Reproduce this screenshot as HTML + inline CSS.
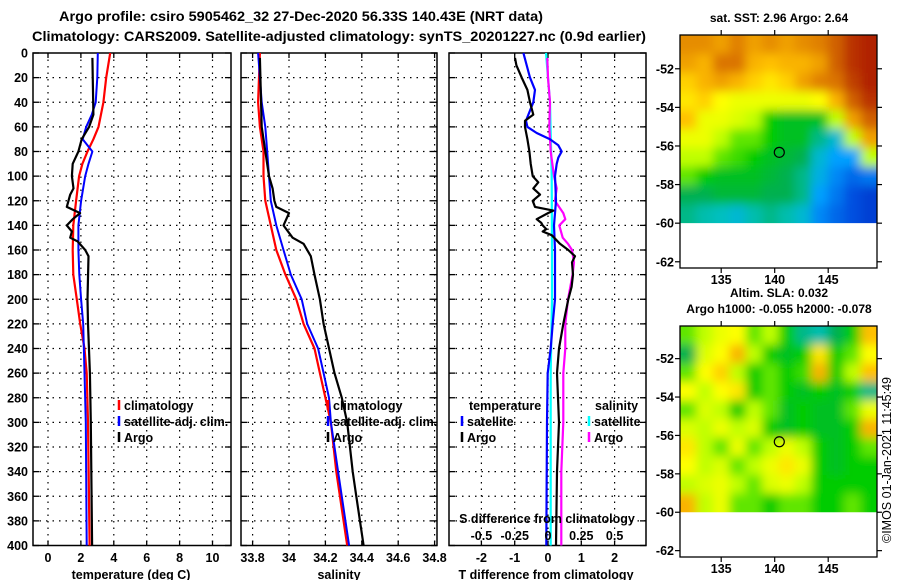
<!DOCTYPE html>
<html><head><meta charset="utf-8"><style>
html,body{margin:0;padding:0;background:#fff;}
svg{display:block;font-family:"Liberation Sans",sans-serif;font-weight:bold;}
</style></head><body>
<svg id="c" width="900" height="580" viewBox="0 0 900 580">
<text x="301" y="21" text-anchor="middle" font-size="13.5" textLength="484" lengthAdjust="spacingAndGlyphs">Argo profile: csiro 5905462_32 27-Dec-2020 56.33S 140.43E (NRT data)</text>
<text x="339" y="41" text-anchor="middle" font-size="13.5" textLength="614" lengthAdjust="spacingAndGlyphs">Climatology: CARS2009. Satellite-adjusted climatology: synTS_20201227.nc (0.9d earlier)</text>
<g id="plots"></g>
</svg>
<script>
// ---------- data ----------
const depthTicks = [0,20,40,60,80,100,120,140,160,180,200,220,240,260,280,300,320,340,360,380,400];
const tempTicks = [0,2,4,6,8,10];
const salTicks = [33.8,34,34.2,34.4,34.6,34.8];
const tdiffTicks = [-2,-1,0,1,2];
const sdiffTicks = [-0.5,-0.25,0,0.25,0.5];
const sdiffLabels = ["-0.5","-0.25","0","0.25","0.5"];

const argoTDepth = [4,50,60,70,80,90,100,110,115,125,130,135,140,145,150,153,160,165,200,220,260,300,400];
const argoTVal   = [2.7,2.76,2.5,2.05,1.85,1.5,1.45,1.55,1.35,1.14,1.95,1.5,1.14,1.45,1.35,1.8,2.26,2.46,2.4,2.43,2.55,2.6,2.68];
const climTDepth = [0,20,40,60,70,80,90,100,120,140,160,180,200,220,240,260,300,400];
const climTVal   = [3.78,3.54,3.37,3.07,2.76,2.4,2.09,1.89,1.71,1.54,1.5,1.54,1.75,1.96,2.22,2.35,2.43,2.53];
const satTDepth  = [0,20,40,50,60,70,80,90,100,120,140,160,180,200,220,260,300,400];
const satTVal    = [3.03,3.0,2.9,2.66,2.32,2.11,2.7,2.46,2.26,2.01,1.85,1.85,1.9,2.01,2.14,2.22,2.3,2.35];

const argoSDepth = [4,60,100,110,120,125,130,140,150,155,165,180,200,220,260,280,300,340,360,400];
const argoSVal   = [33.84,33.85,33.89,33.91,33.92,33.93,34.0,33.97,34.02,34.08,34.12,34.14,34.17,34.19,34.25,34.29,34.32,34.35,34.37,34.41];
const climSDepth = [0,40,60,80,100,120,140,160,180,200,220,240,260,280,300,340,400];
const climSVal   = [33.84,33.83,33.84,33.86,33.86,33.87,33.9,33.93,33.98,34.04,34.08,34.14,34.17,34.2,34.23,34.26,34.32];
const satSDepth  = [0,20,40,60,80,100,120,140,160,180,200,220,240,260,280,300,340,400];
const satSVal    = [33.83,33.84,33.85,33.87,33.88,33.89,33.9,33.93,33.97,34.01,34.07,34.1,34.16,34.19,34.22,34.23,34.27,34.33];

const satTdDepth = [0,20,30,40,50,55,60,65,70,75,80,85,90,100,120,140,160,200,220,240,260,300,400];
const satTdVal   = [-0.74,-0.54,-0.39,-0.44,-0.59,-0.66,-0.62,-0.34,0.06,0.31,0.41,0.31,0.26,0.21,0.24,0.18,0.21,0.21,0.14,0.08,-0.01,-0.03,-0.05];
const argoTdDepth = [4,10,20,30,40,50,55,60,70,80,90,100,105,110,115,120,125,128,130,135,138,140,143,145,148,155,160,165,170,180,190,200,220,240,260,300,340,400];
const argoTdVal   = [-0.99,-0.95,-0.79,-0.62,-0.54,-0.44,-0.69,-0.69,-0.62,-0.56,-0.52,-0.46,-0.29,-0.44,-0.24,-0.46,-0.39,0.16,0.0,-0.34,-0.2,-0.16,-0.05,-0.16,0.11,0.36,0.61,0.81,0.72,0.75,0.71,0.61,0.46,0.33,0.27,0.33,0.27,0.24];
const satSdDepth = [0,40,100,160,200,260,400];
const satSdVal   = [-0.015,0.015,0.028,0.03,0.03,0.02,0.02];
const argoSdDepth = [4,20,40,60,80,100,110,120,130,135,140,150,155,160,170,180,200,220,240,260,300,340,400];
const argoSdVal   = [-0.005,0.0,0.015,0.01,0.02,0.045,0.065,0.052,0.115,0.13,0.085,0.11,0.15,0.18,0.195,0.185,0.15,0.13,0.13,0.115,0.115,0.1,0.1];

// map grids (0 = cold/low, 1 = warm/high), rows north->south
const sstGrid = [
[.78,.78,.75,.8,.75,.78,.75,.78,.8,.85,.92,.95],
[.75,.72,.82,.82,.72,.7,.72,.72,.75,.85,.92,.95],
[.68,.72,.75,.72,.68,.65,.68,.75,.8,.82,.9,.95],
[.65,.68,.62,.6,.6,.6,.6,.6,.62,.72,.85,.92],
[.7,.6,.6,.58,.55,.45,.42,.42,.42,.55,.75,.85],
[.6,.6,.55,.5,.5,.45,.42,.42,.35,.3,.55,.75],
[.55,.55,.5,.48,.45,.42,.4,.38,.3,.25,.25,.55],
[.5,.45,.42,.42,.42,.4,.38,.35,.28,.22,.18,.2],
[.38,.38,.4,.4,.4,.38,.38,.35,.25,.2,.15,.12],
[.35,.33,.32,.3,.33,.35,.33,.3,.22,.18,.15,.12]];
const slaGrid = [
[.5,.55,.6,.62,.5,.55,.45,.35,.33,.38,.45,.7],
[.38,.58,.62,.72,.55,.45,.42,.45,.65,.45,.5,.62],
[.5,.62,.68,.55,.45,.5,.45,.48,.72,.45,.55,.7],
[.62,.55,.62,.65,.45,.5,.45,.42,.45,.42,.45,.35],
[.5,.58,.55,.45,.55,.5,.42,.45,.42,.42,.5,.6],
[.58,.55,.6,.55,.58,.45,.42,.45,.42,.42,.45,.72],
[.65,.55,.5,.6,.5,.55,.6,.55,.45,.42,.45,.5],
[.62,.55,.58,.5,.55,.6,.65,.6,.45,.42,.45,.45],
[.55,.58,.6,.55,.5,.58,.6,.55,.45,.45,.45,.45],
[.72,.55,.6,.5,.5,.45,.5,.5,.45,.45,.5,.45]];
const latTicks = [-52,-54,-56,-58,-60,-62];
const lonTicks = [135,140,145];
const argoLon = 140.43, argoLat = -56.33;

// ---------- drawing ----------
const NS='http://www.w3.org/2000/svg';
const root=document.getElementById('plots');
function mk(tag,attrs,parent){const e=document.createElementNS(NS,tag);for(const k in attrs)e.setAttribute(k,attrs[k]);(parent||root).appendChild(e);return e;}
function txt(x,y,s,size,anchor,parent){const t=mk('text',{x:x,y:y,'font-size':size,'text-anchor':anchor||'middle'},parent);t.textContent=s;return t;}

const Y0=53, Y1=545.5;
const yD = d => Y0 + d*(Y1-Y0)/400;

function panel(name,x0,x1,xs,ticks,labels,showY){
  const g=mk('g',{});
  
  
  depthTicks.forEach(d=>{ if(d>0&&d<400){const l=mk('line',{x1:x0,x2:x1,y1:yD(d),y2:yD(d),stroke:'#000','stroke-width':1.2,'stroke-dasharray':'1.5,5'},g);
    }
    mk('line',{x1:x0,x2:x0+6,y1:yD(d),y2:yD(d),stroke:'#000','stroke-width':1.3},g);
    mk('line',{x1:x1-6,x2:x1,y1:yD(d),y2:yD(d),stroke:'#000','stroke-width':1.3},g);
    if(showY){const t=txt(28,yD(d)+4.5,String(d),12.5,'end',g);}
  });
  ticks.forEach((v,i)=>{const x=xs(v);
    const l=mk('line',{x1:x,x2:x,y1:Y0,y2:Y1,stroke:'#000','stroke-width':1.2,'stroke-dasharray':'1.5,5'},g);
    
    mk('line',{x1:x,x2:x,y1:Y0,y2:Y0+5,stroke:'#000','stroke-width':1.3},g);
    mk('line',{x1:x,x2:x,y1:Y1-5,y2:Y1,stroke:'#000','stroke-width':1.3},g);
    const t=txt(x,562,labels[i],12.5,'middle',g);
  });
  const r=mk('rect',{x:x0,y:Y0,width:x1-x0,height:Y1-Y0,fill:'none',stroke:'#000','stroke-width':1.5},g);
  
  return g;
}
function series(g,name,depths,vals,xs,color,w){
  const p=depths.map((d,i)=>xs(vals[i]).toFixed(1)+','+yD(d).toFixed(1)).join(' ');
  const l=mk('polyline',{points:p,fill:'none',stroke:color,'stroke-width':w||2.2,'stroke-linejoin':'round'},g);
  
  
}
function legend(g,x,y,color,label,name){
  const b=mk('line',{x1:x,x2:x,y1:y-10,y2:y,stroke:color,'stroke-width':2.5},g);
  
  if(label){const t=txt(x+5,y,label,12.5,'start',g);}
}

// panel 1 temperature
const xT = t => 48 + t*16.45;
const g1=panel('temperature-panel',33,231,xT,tempTicks,tempTicks.map(String),true);
series(g1,'temp-climatology-line',climTDepth,climTVal,xT,'#f00',2.2);
series(g1,'temp-satellite-line',satTDepth,satTVal,xT,'#00f',2);
series(g1,'temp-argo-line',argoTDepth,argoTVal,xT,'#000',2.2);
legend(g1,119,410,'#f00','climatology','legend-climatology');
legend(g1,119,426,'#00f','satellite-adj. clim.','legend-satellite');
legend(g1,119,442,'#000','Argo','legend-argo');
{const t=txt(131,579,'temperature (deg C)',12.5,'middle',g1);}

// panel 2 salinity
const xS = s => 289 + (s-34)*182;
const g2=panel('salinity-panel',241,437,xS,salTicks,salTicks.map(String),false);
series(g2,'sal-climatology-line',climSDepth,climSVal,xS,'#f00',2.2);
series(g2,'sal-satellite-line',satSDepth,satSVal,xS,'#00f',2);
series(g2,'sal-argo-line',argoSDepth,argoSVal,xS,'#000',2.2);
legend(g2,328,410,'#f00','climatology','legend-sal-climatology');
legend(g2,328,426,'#00f','satellite-adj. clim.','legend-sal-satellite');
legend(g2,328,442,'#000','Argo','legend-sal-argo');
{const t=txt(339,579,'salinity',12.5,'middle',g2);}

// panel 3 differences
const xTd = v => 548 + v*33.3;
const xSd = v => 548 + v*133.2;
const g3=panel('difference-panel',449,646,xTd,tdiffTicks,tdiffTicks.map(String),false);
series(g3,'sdiff-satellite-line',satSdDepth,satSdVal,xSd,'#0ff',2.2);
series(g3,'sdiff-argo-line',argoSdDepth,argoSdVal,xSd,'#f0f',2.2);
series(g3,'tdiff-satellite-line',satTdDepth,satTdVal,xTd,'#00f',2.2);
series(g3,'tdiff-argo-line',argoTdDepth,argoTdVal,xTd,'#000',2.2);
{let t=txt(469,410,'temperature',12.5,'start',g3);
 t=txt(595,410,'salinity',12.5,'start',g3);}
legend(g3,462,426,'#00f','satellite','legend-tdiff-satellite');
legend(g3,462,442,'#000','Argo','legend-tdiff-argo');
legend(g3,589,426,'#0ff','satellite','legend-sdiff-satellite');
legend(g3,589,442,'#f0f','Argo','legend-sdiff-argo');
{let t=txt(547,523,'S difference from climatology',12.5,'middle',g3);
 sdiffTicks.forEach((v,i)=>{const l=txt(xSd(v),540,sdiffLabels[i],12.5,'middle',g3);});
 t=txt(546,579,'T difference from climatology',12.5,'middle',g3);}

// colormap
const cstops=[[0,[0,0,160]],[.15,[0,80,224]],[.25,[0,160,255]],[.32,[0,192,192]],[.38,[0,176,80]],[.45,[0,204,0]],[.55,[192,255,0]],[.62,[255,255,0]],[.7,[255,192,0]],[.8,[224,128,0]],[.9,[192,64,0]],[1,[160,0,0]]];
function cmap(v){for(let i=1;i<cstops.length;i++){if(v<=cstops[i][0]){const a=cstops[i-1],b=cstops[i];const f=(v-a[0])/(b[0]-a[0]);return 'rgb('+a[1].map((c,k)=>Math.round(c+(b[1][k]-c)*f)).join(',')+')';}}return 'rgb(160,0,0)';}

function mapPanel(name,grid,top,latTop,pxPerLat,frameBottom,lonLabelY,blurId){
  const x0=680,x1=877,lon0=131.15,pxLon=10.7;
  const lx = lo => x0+(lo-lon0)*pxLon;
  const ly = la => top+(latTop-la)*pxPerLat;
  const g=mk('g',{});
  
  
  const imgBottom=ly(-60);
  const defs=mk('defs',{},g);
  const cp=mk('clipPath',{id:blurId+'c'},defs);mk('rect',{x:x0,y:top,width:x1-x0,height:imgBottom-top},cp);
  const f=mk('filter',{id:blurId,filterUnits:'userSpaceOnUse',x:x0-30,y:top-30,width:x1-x0+60,height:imgBottom-top+60},defs);mk('feGaussianBlur',{stdDeviation:5},f);
  const hg=mk('g',{'clip-path':'url(#'+blurId+'c)'},g);
  const inner=mk('g',{filter:'url(#'+blurId+')'},hg);
  const rows=grid.length,cols=grid[0].length;
  const cw=(x1-x0)/cols,ch=(imgBottom-top)/rows;
  grid.forEach((row,r)=>row.forEach((v,c)=>{
    const e=mk('rect',{x:x0+c*cw-(c==0?12:0),y:top+r*ch-(r==0?12:0),width:cw+0.6+(c==0||c==cols-1?12:0),height:ch+0.6+(r==0||r==rows-1?12:0),fill:cmap(v)},inner);
    
    
  }));
  const fr=mk('rect',{x:x0,y:top,width:x1-x0,height:frameBottom-top,fill:'none',stroke:'#000','stroke-width':1.3},g);
  
  latTicks.forEach(la=>{const y=ly(la);
    mk('line',{x1:x0-5,x2:x0,y1:y,y2:y,stroke:'#000','stroke-width':1.2},g);
    mk('line',{x1:x1,x2:x1+5,y1:y,y2:y,stroke:'#000','stroke-width':1.2},g);
    const t=txt(x0-6,y+4.5,String(la),12.5,'end',g);});
  lonTicks.forEach(lo=>{const x=lx(lo);
    mk('line',{x1:x,x2:x,y1:top-5,y2:top,stroke:'#000','stroke-width':1.2},g);
    mk('line',{x1:x,x2:x,y1:frameBottom,y2:frameBottom+5,stroke:'#000','stroke-width':1.2},g);
    const t=txt(x,lonLabelY,String(lo),12.5,'middle',g);});
  const m=mk('circle',{cx:lx(argoLon),cy:ly(argoLat),r:5,fill:'none',stroke:'#000','stroke-width':1.2},g);
  
}
mapPanel('sst-map',sstGrid,35,-50.25,19.3,268,284,'b1');
mapPanel('sla-map',slaGrid,326,-50.3,19.2,557,573,'b2');
{let t=txt(779,22,'sat. SST: 2.96 Argo: 2.64',12,'middle');
 t=txt(779,297,'Altim. SLA: 0.032',12,'middle');
 t=txt(779,313,'Argo h1000: -0.055 h2000: -0.078',12,'middle');
 t=txt(0,0,'©IMOS 01-Jan-2021 11:45:49',12.5,'middle');t.setAttribute('transform','translate(891,460) rotate(-90)');t.setAttribute('font-weight','normal');
 }
</script>
</body></html>
